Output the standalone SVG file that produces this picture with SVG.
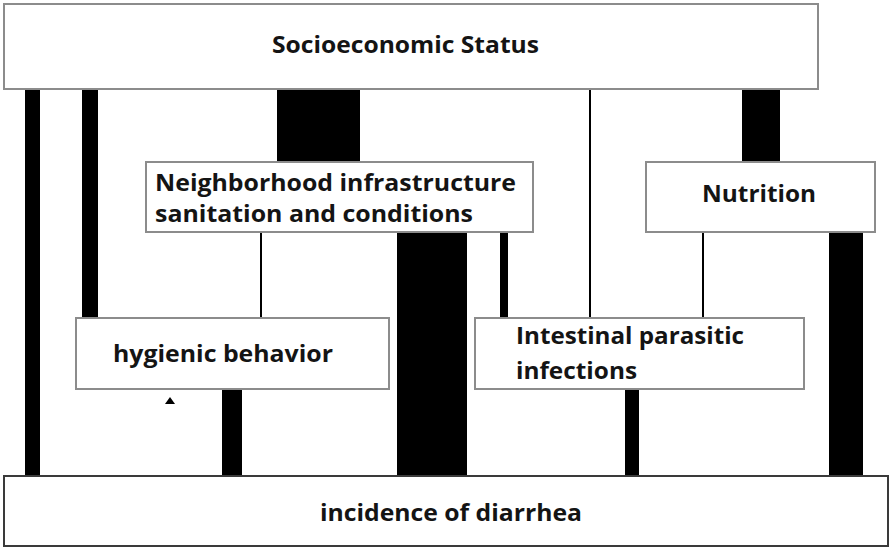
<svg xmlns="http://www.w3.org/2000/svg" width="890" height="548" viewBox="0 0 890 548">
<style>
.box{fill:#fff;stroke:#8c8c8c;stroke-width:2}
.dark{stroke:#3a3a3a}
.lbl{font-family:"Open Sans","Liberation Sans",sans-serif;font-weight:bold;font-size:24px;fill:#141414}
.bar{fill:#000}
</style>
<rect width="890" height="548" fill="#fff"/>
<g id="connectors">
<rect class="bar" x="25" y="89" width="15" height="388"/>
<rect class="bar" x="82" y="89" width="16" height="230"/>
<rect class="bar" x="277" y="89" width="83" height="73"/>
<rect class="bar" x="589" y="89" width="2" height="230"/>
<rect class="bar" x="742" y="89" width="38" height="73"/>
<rect class="bar" x="260" y="232" width="2" height="87"/>
<rect class="bar" x="397" y="232" width="70" height="245"/>
<rect class="bar" x="500" y="232" width="8" height="87"/>
<rect class="bar" x="702" y="232" width="2" height="87"/>
<rect class="bar" x="829" y="232" width="34" height="245"/>
<rect class="bar" x="222" y="389" width="20" height="88"/>
<rect class="bar" x="625" y="389" width="14" height="88"/>
<polygon class="bar" points="165,404 175,404 170,397"/>
</g>
<g id="socioeconomic">
<rect class="box" x="4" y="4" width="814" height="85"/>
<text class="lbl" x="272" y="53" textLength="267" lengthAdjust="spacingAndGlyphs">Socioeconomic Status</text>
</g>
<g id="neighborhood">
<rect class="box" x="146" y="162" width="387" height="70"/>
<text class="lbl" x="155" y="191" textLength="361" lengthAdjust="spacingAndGlyphs">Neighborhood infrastructure</text>
<text class="lbl" x="155" y="222" textLength="318" lengthAdjust="spacingAndGlyphs">sanitation and conditions</text>
</g>
<g id="nutrition">
<rect class="box" x="646" y="162" width="229" height="70"/>
<text class="lbl" x="702" y="202" textLength="114" lengthAdjust="spacingAndGlyphs">Nutrition</text>
</g>
<g id="hygienic">
<rect class="box" x="76" y="318" width="313" height="71"/>
<text class="lbl" x="113" y="362" textLength="220" lengthAdjust="spacingAndGlyphs">hygienic behavior</text>
</g>
<g id="intestinal">
<rect class="box" x="475" y="318" width="329" height="71"/>
<text class="lbl" x="516" y="344" textLength="228" lengthAdjust="spacingAndGlyphs">Intestinal parasitic</text>
<text class="lbl" x="516" y="379" textLength="121" lengthAdjust="spacingAndGlyphs">infections</text>
</g>
<g id="diarrhea">
<rect class="box dark" x="4" y="476" width="884" height="70"/>
<text class="lbl" x="320" y="521" textLength="262" lengthAdjust="spacingAndGlyphs">incidence of diarrhea</text>
</g>
</svg>
